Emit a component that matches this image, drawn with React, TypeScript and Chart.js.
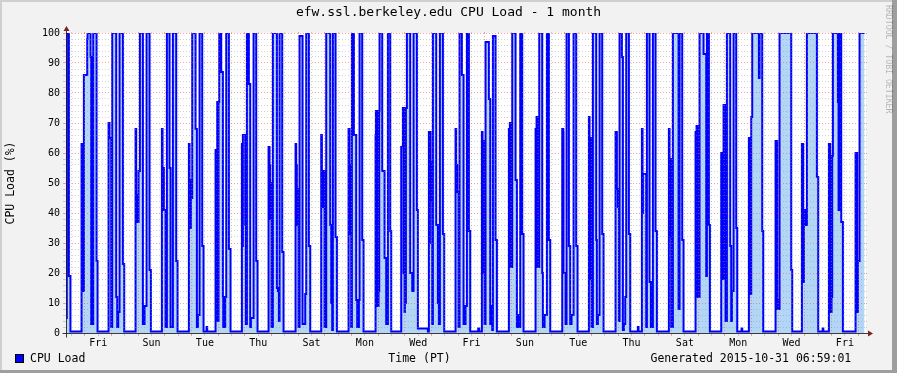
import React, { useEffect, useRef } from 'react';
import { Chart, registerables } from 'chart.js';

Chart.register(...registerables);

// CPU load (%) change points: [hours from that day's midnight (PT), value]
const oct01 = [[7.0,5],[7.7,100],[9.6,19],[11.0,0.5]];
const oct02 = [[-3.0,63],[-2.4,14],[-1.8,63],[-1.2,14],[-0.9,86],[2.1,98],[2.4,100],[5.1,92],[5.7,3],[7.5,100],[10.5,24],[11.4,0.5]];
const oct03 = [[-2.7,70],[-1.8,65],[-0.3,2],[0.6,100],[4.2,12],[5.1,2],[6.0,7],[7.2,100],[10.2,23],[11.4,0.5]];
const oct04 = [[-2.4,68],[-1.8,46],[-1.2,37],[0.3,54],[1.5,100],[4.2,3],[5.7,9],[7.5,100],[10.2,21],[11.4,0.5]];
const oct05 = [[-2.7,68],[-2.1,55],[-1.8,41],[-1.2,55],[-0.9,41],[0.6,2],[1.8,100],[4.2,55],[5.1,2],[7.2,100],[10.2,24],[11.4,0.5]];
const oct06 = [[-2.4,63],[-1.8,51],[-1.2,35],[-0.6,45],[0.6,100],[3.6,68],[4.8,2],[5.7,6],[7.2,100],[9.6,29],[10.8,0.5],[13.5,2],[14.1,0.5]];
const oct07 = [[-2.4,61],[-1.8,15],[-1.5,61],[-1.2,15],[-0.9,77],[-0.6,4],[-0.3,77],[0.0,4],[0.3,77],[0.9,100],[2.7,87],[4.2,12],[4.5,2],[6.3,12],[7.2,100],[9.6,28],[11.1,0.5]];
const oct08 = [[-2.7,63],[-2.1,29],[-1.8,66],[0.3,36],[0.9,3],[1.8,100],[3.6,83],[4.8,2],[5.4,5],[7.8,100],[10.2,24],[11.4,0.5]];
const oct09 = [[-2.7,62],[-1.8,56],[-1.2,38],[-0.6,50],[0.0,2],[1.2,100],[4.8,15],[5.7,14],[6.6,4],[7.2,100],[9.6,27],[10.8,0.5]];
const oct10 = [[-2.4,63],[-1.8,56],[-1.2,36],[-0.6,48],[0.3,2],[1.2,99],[3.9,3],[6.3,13],[7.2,100],[9.6,29],[10.8,0.5]];
const oct11 = [[-3.3,66],[-2.7,42],[-2.1,54],[-0.3,2],[1.2,100],[4.8,36],[5.7,10],[6.6,1],[7.2,100],[9.6,32],[10.8,0.5]];
const oct12 = [[-2.7,68],[-1.8,56],[-1.2,33],[-0.6,45],[-0.3,2],[0.3,100],[2.1,66],[4.2,11],[5.1,2],[6.6,11],[7.2,100],[9.6,31],[10.8,0.5]];
const oct13 = [[-2.4,66],[-2.1,74],[-1.8,14],[-1.5,74],[-1.2,9],[-0.9,74],[-0.6,14],[-0.3,74],[0.0,9],[0.3,74],[0.6,14],[0.9,74],[1.2,100],[3.6,54],[5.7,25],[7.2,3],[8.7,100],[10.8,34],[11.7,0.5]];
const oct14 = [[-3.3,62],[-1.8,75],[-1.2,20],[-0.9,75],[-0.3,7],[0.0,75],[0.6,10],[0.9,75],[1.8,100],[4.8,20],[6.6,14],[7.8,100],[10.8,41],[11.7,1.5],[20.7,0.5]];
const oct15 = [[-2.4,67],[-1.8,30],[-1.5,67],[-0.9,57],[0.0,44],[0.6,3],[1.2,100],[4.2,36],[5.7,10],[6.6,3],[7.5,100],[10.2,33],[11.4,0.5]];
const oct16 = [[-2.4,68],[-1.8,56],[-0.9,47],[0.3,2],[1.2,100],[3.3,86],[4.8,3],[6.6,9],[7.8,100],[9.6,34],[10.8,0.5],[18.0,1.5],[18.9,0.5]];
const oct17 = [[-2.7,67],[-2.1,20],[-1.8,64],[-0.9,46],[-0.3,3],[0.6,97],[3.6,78],[4.8,3],[5.7,9],[6.6,1],[7.2,99],[9.6,31],[10.8,0.5]];
const oct18 = [[-2.4,68],[-1.5,70],[-0.6,22],[0.6,100],[3.6,51],[4.8,2],[5.7,6],[6.6,2],[7.8,100],[9.6,33],[10.8,0.5]];
const oct19 = [[-2.4,68],[-1.5,72],[-0.9,22],[-0.6,72],[-0.3,22],[0.9,100],[3.6,20],[4.2,2],[5.7,6],[7.8,100],[9.6,31],[10.8,0.5]];
const oct20 = [[-2.4,68],[-1.5,67],[-1.2,20],[0.6,3],[1.5,100],[3.6,29],[4.8,3],[6.0,6],[7.8,100],[10.2,29],[11.4,0.5]];
const oct21 = [[-2.4,72],[-1.8,65],[-0.6,18],[0.0,2],[1.2,100],[4.2,31],[4.8,3],[5.7,6],[7.2,100],[9.6,33],[10.8,0.5]];
const oct22 = [[-2.4,67],[-1.2,48],[-0.3,42],[0.6,4],[1.2,100],[3.3,92],[4.2,1],[5.1,3],[6.3,12],[7.2,100],[9.6,33],[10.8,0.5],[17.7,2],[18.3,0.5]];
const oct23 = [[-2.7,68],[-2.1,40],[-1.8,53],[1.2,2],[1.8,100],[4.2,17],[5.4,2],[7.2,100],[9.6,34],[10.8,0.5]];
const oct24 = [[-2.4,68],[-1.8,58],[-1.2,32],[-0.6,58],[-0.3,2],[1.2,100],[6.3,8],[7.2,100],[9.6,31],[10.8,0.5]];
const oct25 = [[-2.4,67],[-1.8,12],[-1.5,69],[-1.2,14],[-0.9,69],[-0.6,12],[-0.3,69],[0.0,13],[0.3,69],[0.9,12],[1.2,100],[4.8,93],[7.2,19],[7.8,100],[9.6,36],[10.5,0.5]];
const oct26 = [[-3.3,60],[-2.7,18],[-2.4,60],[-1.8,18],[-1.2,76],[0.6,4],[1.8,100],[4.8,29],[5.7,4],[6.3,14],[7.8,100],[10.2,35],[11.1,0.5],[15.0,1.5],[15.6,0.5]];
const oct27 = [[-2.4,65],[-1.8,13],[-1.2,65],[-0.9,13],[-0.3,72],[0.6,100],[6.6,85],[7.2,100],[9.6,34],[10.5,0.5]];
const oct28 = [[-2.4,64],[-1.8,14],[-1.2,64],[-0.9,11],[-0.6,8],[1.2,100],[11.7,21],[12.6,0.5]];
const oct29 = [[-2.7,63],[-2.1,17],[-1.8,63],[-1.5,17],[-0.9,41],[0.3,36],[1.8,100],[10.8,52],[12.0,0.5],[16.0,1.5],[16.6,0.5]];
const oct30 = [[-2.4,63],[-1.2,12],[-0.6,7],[0.0,12],[0.6,59],[1.2,100],[5.7,77],[6.3,41],[6.9,77],[7.2,100],[8.7,37],[10.2,0.5]];
const oct31 = [[-2.4,60],[-1.8,19],[-1.5,7],[-1.2,60],[-0.9,7],[-0.3,24],[1.2,100],[5.7,100]];

const days = [oct01, oct02, oct03, oct04, oct05, oct06, oct07, oct08, oct09, oct10,
  oct11, oct12, oct13, oct14, oct15, oct16, oct17, oct18, oct19, oct20,
  oct21, oct22, oct23, oct24, oct25, oct26, oct27, oct28, oct29, oct30, oct31];

// x-axis labels (placed at noon of these October dates)
const dayLabels = ['Fri', 'Sun', 'Tue', 'Thu', 'Sat', 'Mon', 'Wed', 'Fri', 'Sun', 'Tue', 'Thu', 'Sat', 'Mon', 'Wed', 'Fri'];
const labelDates = [2, 4, 6, 8, 10, 12, 14, 16, 18, 20, 22, 24, 26, 28, 30];

// time window: hours since Oct 1 00:00 PT
const START_H = 7;
const END_H = 727;

const TITLE = 'efw.ssl.berkeley.edu CPU Load - 1 month';
const Y_TITLE = 'CPU Load (%)';
const LEGEND = 'CPU Load';
const X_TITLE = 'Time (PT)';
const GENERATED = 'Generated 2015-10-31 06:59:01';
const WATERMARK = 'RRDTOOL / TOBI OETIKER';

const W = 897;
const H = 373;
const MONO = '"DejaVu Sans Mono", monospace';
const MINOR = 'rgba(143,143,143,0.4)';
const MAJOR = 'rgba(222,79,79,0.5)';
const DASH = [1, 2];

const series = days
  .flatMap((pts, i) => pts.map(([h, v]) => ({ x: i * 24 + h, y: v })))
  .sort((a, b) => a.x - b.x);

const labelHourOf = (d: number) => (d - 1) * 24 + 12;

const rrdPlugin = {
  id: 'rrdDecor',
  beforeDraw(chart: any) {
    const { ctx, chartArea: a, width, height } = chart;
    ctx.save();
    ctx.fillStyle = '#f2f2f2';
    ctx.fillRect(0, 0, width, height);
    ctx.fillStyle = '#cfcfcf';
    ctx.fillRect(0, 0, width, 2);
    ctx.fillRect(0, 0, 2, height);
    ctx.fillStyle = '#9e9e9e';
    ctx.fillRect(width - 5, 0, 5, height);
    ctx.fillRect(0, height - 3, width, 3);
    ctx.fillStyle = '#ffffff';
    ctx.fillRect(a.left, a.top, a.right - a.left, a.bottom - a.top);
    ctx.restore();
  },
  afterDraw(chart: any) {
    const { ctx, chartArea: a, scales } = chart;
    ctx.save();
    // grid stubs beyond right / top edge
    ctx.lineWidth = 1;
    ctx.setLineDash(DASH);
    scales.y.ticks.forEach((t: any) => {
      const y = Math.floor(scales.y.getPixelForValue(t.value)) + 0.5;
      ctx.strokeStyle = t.value % 10 === 0 ? MAJOR : MINOR;
      ctx.beginPath();
      ctx.moveTo(a.right, y);
      ctx.lineTo(a.right + 3, y);
      ctx.stroke();
    });
    scales.x.ticks.forEach((t: any) => {
      const x = Math.floor(scales.x.getPixelForValue(t.value)) + 0.5;
      ctx.strokeStyle = t.value % 24 === 0 ? MAJOR : MINOR;
      ctx.beginPath();
      ctx.moveTo(x, a.top);
      ctx.lineTo(x, a.top - 3);
      ctx.stroke();
    });
    ctx.setLineDash([]);

    // axes
    const xo = a.left + 0.5;
    const yo = a.bottom + 0.5;
    ctx.strokeStyle = 'rgba(31,31,31,0.85)';
    ctx.lineWidth = 1;
    ctx.beginPath();
    ctx.moveTo(xo - 4, yo);
    ctx.lineTo(a.right + 4, yo);
    ctx.moveTo(xo, yo + 4);
    ctx.lineTo(xo, a.top - 4);
    ctx.stroke();
    ctx.fillStyle = 'rgb(128,31,31)';
    ctx.beginPath();
    ctx.moveTo(a.right + 2, yo - 3);
    ctx.lineTo(a.right + 2, yo + 3);
    ctx.lineTo(a.right + 7, yo);
    ctx.closePath();
    ctx.fill();
    ctx.beginPath();
    ctx.moveTo(xo - 3, a.top - 2);
    ctx.lineTo(xo + 3, a.top - 2);
    ctx.lineTo(xo, a.top - 7);
    ctx.closePath();
    ctx.fill();

    // texts
    ctx.fillStyle = '#000';
    ctx.textBaseline = 'middle';
    ctx.textAlign = 'center';
    ctx.font = `13px ${MONO}`;
    ctx.fillText(TITLE, 448.5, 13);

    ctx.save();
    ctx.translate(11, (a.top + a.bottom) / 2);
    ctx.rotate(-Math.PI / 2);
    ctx.font = `11.5px ${MONO}`;
    ctx.fillText(Y_TITLE, 0, 0);
    ctx.restore();

    // legend
    ctx.fillStyle = '#0000ff';
    ctx.fillRect(15, 354, 9, 9);
    ctx.strokeStyle = '#000';
    ctx.lineWidth = 1;
    ctx.strokeRect(15.5, 354.5, 8, 8);
    ctx.fillStyle = '#000';
    ctx.font = `11.5px ${MONO}`;
    ctx.textAlign = 'left';
    ctx.fillText(LEGEND, 30, 359);
    ctx.textAlign = 'center';
    ctx.fillText(X_TITLE, 419.5, 359);
    ctx.textAlign = 'left';
    ctx.fillText(GENERATED, 650.5, 359);

    // watermark
    ctx.save();
    ctx.translate(888, 5);
    ctx.rotate(Math.PI / 2);
    ctx.font = `8.2px ${MONO}`;
    ctx.fillStyle = 'rgba(0,0,0,0.25)';
    ctx.textAlign = 'left';
    ctx.textBaseline = 'middle';
    ctx.fillText(WATERMARK, 0, 0);
    ctx.restore();

    ctx.restore();
  },
};

export default function App() {
  const ref = useRef<HTMLCanvasElement | null>(null);

  useEffect(() => {
    if (!ref.current) return;
    const xGrid: number[] = [];
    for (let h = 12; h < END_H; h += 12) if (h > START_H) xGrid.push(h);
    const yGrid: number[] = [];
    for (let v = 0; v <= 100; v += 2) yGrid.push(v);
    const labelHours = labelDates.map(labelHourOf);

    const chart = new Chart(ref.current, {
      type: 'line',
      data: {
        datasets: [
          {
            label: LEGEND,
            data: series,
            stepped: 'before',
            borderColor: '#0000ff',
            borderWidth: 2,
            backgroundColor: 'rgb(180,214,246)',
            fill: 'origin',
            pointRadius: 0,
            borderJoinStyle: 'miter',
            tension: 0,
          },
        ],
      },
      plugins: [rrdPlugin],
      options: {
        animation: false,
        responsive: false,
        devicePixelRatio: 1,
        events: [],
        layout: { padding: { left: 0, top: 33, right: W - 866, bottom: 0 } },
        plugins: { legend: { display: false }, tooltip: { enabled: false }, title: { display: false } },
        scales: {
          x: {
            type: 'linear',
            min: START_H,
            max: END_H,
            afterFit: (s: any) => { s.height = H - 333; },
            afterBuildTicks: (s: any) => { s.ticks = xGrid.map((v) => ({ value: v })); },
            ticks: {
              autoSkip: false,
              maxRotation: 0,
              padding: 1,
              color: '#000',
              font: { family: MONO, size: 10 },
              callback: (value: any) => {
                const i = labelHours.indexOf(Number(value));
                return i >= 0 ? dayLabels[i] : '';
              },
            },
            grid: {
              z: 1,
              lineWidth: 1,
              tickLength: 3,
              color: (c: any) => (c.tick && c.tick.value % 24 === 0 ? MAJOR : MINOR),
            },
            border: { display: false, dash: DASH },
          },
          y: {
            min: 0,
            max: 100,
            afterFit: (s: any) => { s.width = 66; },
            afterBuildTicks: (s: any) => { s.ticks = yGrid.map((v) => ({ value: v })); },
            ticks: {
              autoSkip: false,
              padding: 3,
              color: '#000',
              font: { family: MONO, size: 10 },
              callback: (value: any) => (Number(value) % 10 === 0 ? String(value) : ''),
            },
            grid: {
              z: 1,
              lineWidth: 1,
              tickLength: 3,
              color: (c: any) => (c.tick && c.tick.value % 10 === 0 ? MAJOR : MINOR),
            },
            border: { display: false, dash: DASH },
          },
        },
      },
    } as any);
    return () => chart.destroy();
  }, []);

  return (
    <div style={{ position: 'absolute', left: 0, top: 0, width: W, height: H }}>
      <canvas ref={ref} width={W} height={H} style={{ display: 'block', width: W, height: H }} />
    </div>
  );
}
